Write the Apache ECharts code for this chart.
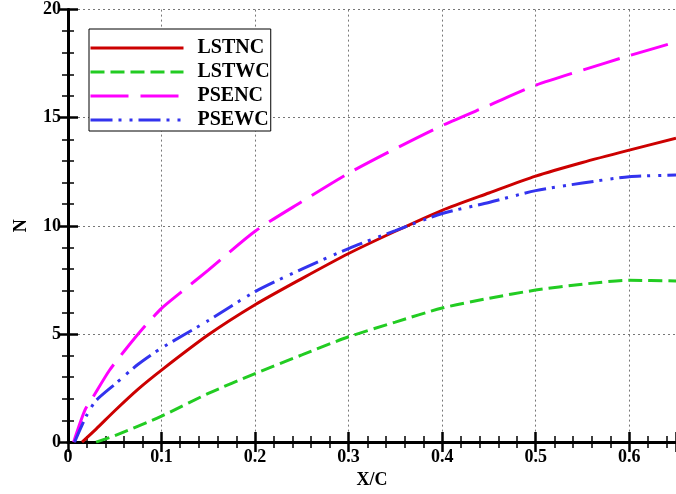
<!DOCTYPE html>
<html><head><meta charset="utf-8">
<script src="https://cdn.jsdelivr.net/npm/echarts@6/dist/echarts.min.js"></script>
<style>html,body{margin:0;padding:0;background:#fff}#c{width:676px;height:494px}</style>
</head><body><div id="c"></div>
<script>
var seriesNames = ['LSTNC', 'LSTWC', 'PSENC', 'PSEWC'];
var xTicks = [0, 0.1, 0.2, 0.3, 0.4, 0.5, 0.6];
var yTicks = [0, 5, 10, 15, 20];

var lstncX = [0.015, 0.03, 0.05, 0.075, 0.1, 0.15, 0.2, 0.25, 0.3, 0.35, 0.4, 0.45, 0.5, 0.55, 0.6, 0.65];
var lstncY = [0, 0.6, 1.45, 2.45, 3.33, 4.96, 6.35, 7.56, 8.72, 9.75, 10.72, 11.52, 12.3, 12.93, 13.5, 14.05];

var lstwcX = [0.03, 0.05, 0.1, 0.15, 0.2, 0.25, 0.3, 0.35, 0.4, 0.45, 0.5, 0.55, 0.6, 0.65];
var lstwcY = [0, 0.3, 1.2, 2.25, 3.17, 4.03, 4.87, 5.55, 6.2, 6.65, 7.03, 7.3, 7.48, 7.45];

var psencX = [0.006, 0.018, 0.027, 0.044, 0.06, 0.08, 0.1, 0.12, 0.15, 0.2, 0.25, 0.3, 0.35, 0.4, 0.45, 0.5, 0.55, 0.6, 0.65];
var psencY = [0, 1.47, 2.1, 3.3, 4.2, 5.25, 6.18, 6.9, 7.95, 9.75, 11.12, 12.43, 13.57, 14.64, 15.57, 16.5, 17.2, 17.87, 18.5];

var psewcX = [0.007, 0.02, 0.03, 0.05, 0.075, 0.1, 0.15, 0.2, 0.25, 0.3, 0.35, 0.4, 0.45, 0.5, 0.55, 0.6, 0.65];
var psewcY = [0, 1.24, 1.92, 2.67, 3.6, 4.35, 5.62, 6.96, 8.0, 8.95, 9.78, 10.57, 11.08, 11.63, 11.98, 12.27, 12.35];

function pairs(xs, ys) { return xs.map(function (x, i) { return [x, ys[i]]; }); }

var colors = ['#cc0000', '#22cc22', '#ff00ff', '#3333ee'];
var dashes = ['solid', [14, 6], [38, 12], [22, 6, 3, 8, 3, 6]];
var dataSets = [pairs(lstncX, lstncY), pairs(lstwcX, lstwcY), pairs(psencX, psencY), pairs(psewcX, psewcY)];

var font = 'Liberation Serif';
var axisLine = { show: true, lineStyle: { color: '#000', width: 3 } };
var tick = { show: true, inside: true, length: 10, lineStyle: { color: '#000', width: 2.5 } };
var minor = { show: true, splitNumber: 5, length: 6, lineStyle: { color: '#000', width: 1.5 } };
var grid = { show: true, lineStyle: { color: '#777', width: 1, type: [2, 3] } };

var chart = echarts.init(document.getElementById('c'));
chart.setOption({
  animation: false,
  backgroundColor: '#fff',
  grid: { left: 68, top: 9.6, width: 615.5, height: 442.8 },
  legend: {
    data: seriesNames,
    orient: 'vertical',
    left: 89, top: 29,
    padding: [9, 1, 1, 0],
    itemGap: 4,
    itemWidth: 93, itemHeight: 20,
    borderColor: '#000', borderWidth: 1,
    backgroundColor: '#fff',
    itemStyle: { color: 'transparent', borderWidth: 0, opacity: 0 },
    lineStyle: { width: 3 },
    textStyle: { fontFamily: font, fontWeight: 'bold', fontSize: 20, color: '#000', lineHeight: 20, padding: [0, 0, 0, 9] }
  },
  xAxis: [{
    type: 'value', min: 0, max: 0.65, interval: 0.1,
    name: 'X/C', nameLocation: 'middle', nameGap: 24,
    nameTextStyle: { fontFamily: font, fontWeight: 'bold', fontSize: 18, color: '#000' },
    axisLine: axisLine, axisTick: tick, minorTick: minor, splitLine: grid,
    axisLabel: { margin: 6, fontFamily: font, fontWeight: 'bold', fontSize: 18, color: '#000',
      formatter: function (v) { return xTicks.indexOf(Math.round(v * 10) / 10) >= 0 ? String(Math.round(v * 10) / 10) : ''; },
      showMaxLabel: false }
  }, {
    type: 'value', position: 'top', min: 0, max: 0.65, interval: 0.1,
    axisLine: axisLine, axisTick: tick, minorTick: minor, splitLine: { show: false }, axisLabel: { show: false }
  }],
  yAxis: [{
    type: 'value', min: 0, max: 20, interval: 5,
    name: 'N', nameLocation: 'middle', nameGap: 38, nameRotate: 90,
    nameTextStyle: { fontFamily: font, fontWeight: 'bold', fontSize: 18, color: '#000' },
    axisLine: axisLine, axisTick: tick, minorTick: minor, splitLine: grid,
    axisLabel: { margin: 7, fontFamily: font, fontWeight: 'bold', fontSize: 18, color: '#000',
      formatter: function (v) { return yTicks.indexOf(v) >= 0 ? String(v) : ''; } }
  }, {
    type: 'value', position: 'right', min: 0, max: 20, interval: 5,
    axisLine: axisLine, axisTick: tick, minorTick: minor, splitLine: { show: false }, axisLabel: { show: false }
  }],
  series: seriesNames.map(function (n, i) {
    return {
      name: n, type: 'line', data: dataSets[i], smooth: 0.25, symbol: 'none', showSymbol: false,
      xAxisIndex: 0, yAxisIndex: 0, clip: true, z: 3,
      color: colors[i],
      lineStyle: { color: colors[i], width: 3, type: dashes[i], cap: 'butt' }
    };
  })
});
</script></body></html>
